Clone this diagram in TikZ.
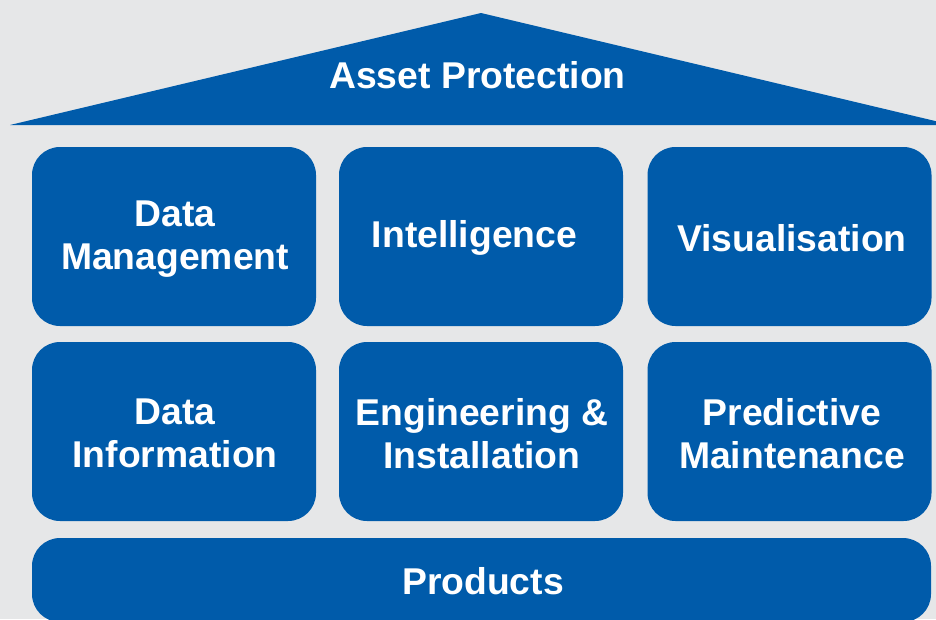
\documentclass[tikz,border=0pt]{standalone}
\usepackage{fontspec}
\setmainfont{Liberation Sans}
\definecolor{bg}{HTML}{E6E7E8}
\definecolor{blu}{HTML}{005BAA}
\begin{document}
\begin{tikzpicture}[x=1pt,y=-1pt,
  block/.style={fill=blu, draw=none, rounded corners=28pt,
    minimum width=284pt, minimum height=179pt, inner sep=0pt},
  txt/.style={text=white, font=\fontsize{37.3}{43}\selectfont\bfseries, align=center, inner sep=0pt}]
\fill[bg] (0,0) rectangle (936,619);
\useasboundingbox (0,0) rectangle (936,619);
% roof
\fill[blu] (10,125) -- (481,13) -- (952,125) -- cycle;
\node[txt] (roof) at (477.5,75) {Asset Protection};
% row 1
\node[block] (dm) at (174,236.5) {};
\node[block] (int) at (481,236.5) {};
\node[block] (vis) at (789.5,236.5) {};
\node[txt] (dmt) at (175,239) {Data\\Management};
\node[txt] (intt) at (474.5,238) {Intelligence};
\node[txt] (vist) at (792,238) {Visualisation};
% row 2
\node[block] (di) at (174,431.5) {};
\node[block] (ei) at (481,431.5) {};
\node[block] (pm) at (789.5,431.5) {};
\node[txt] (dit) at (175,433.5) {Data\\Information};
\node[txt] (eit) at (482,433.5) {Engineering \&\\Installation};
\node[txt] (pmt) at (792,433.5) {Predictive\\Maintenance};
% base
\node[block, minimum width=899pt, minimum height=84pt] (prod) at (481.5,580) {};
\node[txt] (prodt) at (483,581) {Products};
\end{tikzpicture}
\end{document}
